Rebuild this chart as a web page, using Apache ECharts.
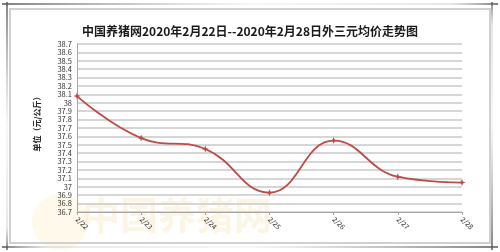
<!DOCTYPE html>
<html>
<head>
<meta charset="utf-8">
<script src="https://cdn.jsdelivr.net/npm/echarts@6/dist/echarts.min.js"></script>
<style>
html,body{margin:0;padding:0;background:#fff;}
#c{width:500px;height:252px;}
</style>
</head>
<body>
<div id="c"></div>
<script>
var titleText = '中国养猪网2020年2月22日--2020年2月28日外三元均价走势图';
var yAxisName = '单位（元/公斤）';
var categories = ['2/22', '2/23', '2/24', '2/25', '2/26', '2/27', '2/28'];
var prices = [38.08, 37.58, 37.45, 36.93, 37.55, 37.12, 37.05];
var yMin = 36.7, yMax = 38.7, yStep = 0.1;

var chart = echarts.init(document.getElementById('c'), null, {renderer: 'canvas'});
var CJK = '"Noto Sans CJK SC", "Noto Sans", sans-serif';
chart.setOption({
  animation: false,
  backgroundColor: '#fff',
  title: {
    text: titleText,
    left: 'center',
    top: 20,
    textStyle: {fontFamily: CJK, fontSize: 12, fontWeight: 'bold', color: '#1a1a1a'}
  },
  grid: {left: 77, right: 38, top: 44, bottom: 40},
  xAxis: {
    type: 'category',
    data: categories,
    boundaryGap: false,
    axisLine: {lineStyle: {color: '#a6a6a6', width: 1}},
    axisTick: {show: true, alignWithLabel: true, length: 3, lineStyle: {color: '#a6a6a6'}},
    axisLabel: {rotate: -45, fontSize: 7, color: '#333', fontFamily: CJK, margin: 6, interval: 0}
  },
  yAxis: {
    type: 'value',
    min: yMin,
    max: yMax,
    interval: yStep,
    axisLine: {show: true, lineStyle: {color: '#a6a6a6', width: 1}},
    axisTick: {show: false},
    splitLine: {lineStyle: {color: '#c8c8c8', width: 1.5}},
    axisLabel: {
      fontSize: 7.5, color: '#333', fontFamily: CJK, margin: 5,
      formatter: function (v) { return String(parseFloat(v.toFixed(1))); }
    }
  },
  graphic: [
    {type: 'circle', shape: {cx: 60, cy: 222, r: 28}, style: {fill: 'rgba(245,215,120,0.15)'}, silent: true, z: -1},
    {type: 'text', left: 82, top: 196, style: {text: '中国养猪网', font: 'bold 38px ' + CJK, fill: 'rgba(240,200,110,0.18)'}, silent: true, z: -1},
    {type: 'rect', shape: {x: 10, y: 9, width: 480, height: 234}, style: {fill: 'none', stroke: '#d0d0d0', lineWidth: 2}, silent: true},
    {type: 'line', shape: {x1: 2, y1: 4, x2: 498, y2: 4}, style: {stroke: new echarts.graphic.LinearGradient(0, 0, 1, 0, [{offset: 0, color: '#555'}, {offset: 0.5, color: 'rgba(150,150,150,0.1)'}, {offset: 0.9, color: 'rgba(150,150,150,0.3)'}, {offset: 1, color: '#444'}]), lineWidth: 1.5}, silent: true},
    {type: 'line', shape: {x1: 7, y1: 2, x2: 7, y2: 250}, style: {stroke: new echarts.graphic.LinearGradient(0, 0, 0, 1, [{offset: 0, color: '#555'}, {offset: 0.5, color: 'rgba(150,150,150,0.1)'}, {offset: 0.9, color: 'rgba(150,150,150,0.3)'}, {offset: 1, color: '#444'}]), lineWidth: 1.5}, silent: true},
    {type: 'line', shape: {x1: 2, y1: 247, x2: 498, y2: 247}, style: {stroke: new echarts.graphic.LinearGradient(0, 0, 1, 0, [{offset: 0, color: '#444'}, {offset: 0.1, color: 'rgba(150,150,150,0.3)'}, {offset: 0.5, color: 'rgba(150,150,150,0.1)'}, {offset: 1, color: '#555'}]), lineWidth: 1.5}, silent: true},
    {type: 'line', shape: {x1: 492, y1: 2, x2: 492, y2: 250}, style: {stroke: new echarts.graphic.LinearGradient(0, 0, 0, 1, [{offset: 0, color: '#444'}, {offset: 0.1, color: 'rgba(150,150,150,0.3)'}, {offset: 0.5, color: 'rgba(150,150,150,0.1)'}, {offset: 1, color: '#555'}]), lineWidth: 1.5}, silent: true},
    {type: 'text', x: 37, y: 122, rotation: Math.PI / 2, style: {text: yAxisName, font: 'bold 8px ' + CJK, fill: '#222', textAlign: 'center', textVerticalAlign: 'middle'}, silent: true}
  ],
  series: [{
    type: 'line',
    data: prices,
    smooth: 0.45,
    symbol: 'path://M0,-5 L1.4,-1.4 L5,0 L1.4,1.4 L0,5 L-1.4,1.4 L-5,0 L-1.4,-1.4 Z',
    symbolSize: 7,
    showSymbol: true,
    lineStyle: {color: '#be4b48', width: 1.8},
    itemStyle: {color: '#be4b48'}
  }]
});
</script>
</body>
</html>
